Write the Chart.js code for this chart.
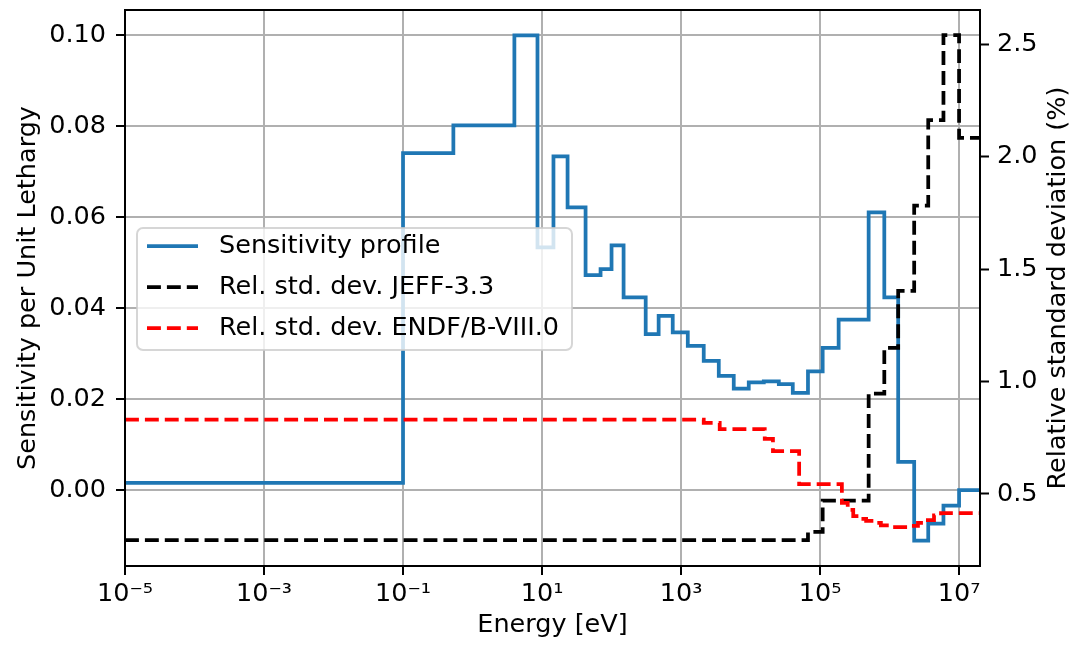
<!DOCTYPE html>
<html>
<head>
<meta charset="utf-8">
<script src="https://cdn.jsdelivr.net/npm/chart.js@4"></script>
<style>
  body { margin: 0; background: #fff; }
  #wrap { width: 1074px; height: 646px; }
</style>
</head>
<body>
<div id="wrap"><canvas id="chart" width="1074" height="646"></canvas></div>
<script>
// --- group boundaries (eV) and values ---
const sensEdges = [1e-5, 0.1, 0.53, 4.0, 8.6, 14.6, 23.3, 42.3, 69.5, 100, 149, 310, 476, 759,
  1250, 2120, 3490, 5730, 9420, 1.55e4, 2.55e4, 4.05e4, 6.7e4, 1.09e5, 1.85e5, 5.0e5, 8.4e5,
  1.33e6, 2.26e6, 3.6e6, 5.96e6, 1e7, 2e7];
const sensValues = [0.0016, 0.0741, 0.0802, 0.1000, 0.0534, 0.0734, 0.0622, 0.0473, 0.0486,
  0.0538, 0.0424, 0.0343, 0.0383, 0.0347, 0.0317, 0.0284, 0.0251, 0.0223, 0.0237, 0.0239,
  0.0233, 0.0214, 0.0261, 0.0313, 0.0375, 0.0611, 0.0424, 0.0062, -0.0111, -0.0074, -0.0034, 0.0000];

const jeffEdges = [1e-5, 6.7e4, 1.09e5, 5.0e5, 8.4e5, 1.33e6, 2.26e6, 3.6e6, 5.96e6, 1e7, 2e7];
const jeffValues = [0.295, 0.331, 0.470, 0.947, 1.150, 1.404, 1.783, 2.163, 2.542, 2.085];

const endfEdges = [1e-5, 2120, 3600, 1.6e4, 2.1e4, 5.0e4, 2.06e5, 2.5e5, 3.0e5, 3.6e5, 4.6e5,
  6.0e5, 7.5e5, 1.05e6, 1.46e6, 2.03e6, 2.56e6, 3.34e6, 4.36e6, 5.5e6, 2e7];
const endfValues = [0.831, 0.816, 0.789, 0.745, 0.691, 0.544, 0.460, 0.429, 0.402, 0.389, 0.380,
  0.371, 0.360, 0.353, 0.353, 0.358, 0.371, 0.384, 0.405, 0.415];

// ticks
const xTickExps = [-5, -3, -1, 1, 3, 5, 7];
const leftTicks = [0.00, 0.02, 0.04, 0.06, 0.08, 0.10];
const rightTicks = [0.5, 1.0, 1.5, 2.0, 2.5];

const seriesLabels = ["Sensitivity profile", "Rel. std. dev. JEFF-3.3", "Rel. std. dev. ENDF/B-VIII.0"];

// turn bins into step points (value held over each bin)
function steps(edges, vals) {
  let pts = [];
  for (let i = 0; i < vals.length; i++) {
    pts.push({x: edges[i], y: vals[i]});
    pts.push({x: edges[i + 1], y: vals[i]});
  }
  return pts;
}

const SUP = {'-': '\u207B', '0': '\u2070', '1': '\u00B9', '2': '\u00B2', '3': '\u00B3',
  '4': '\u2074', '5': '\u2075', '6': '\u2076', '7': '\u2077', '8': '\u2078', '9': '\u2079'};
function powLabel(v) {
  const e = Math.round(Math.log10(v));
  return '10' + String(e).split('').map(c => SUP[c]).join('');
}

const FONT = 25.5;
Chart.defaults.font.family = "'DejaVu Sans', sans-serif";
Chart.defaults.font.size = FONT;
Chart.defaults.color = '#000';

const LW = 3.75;
const DASH = [13.9, 6];

// vertical scales: no extra room for the end labels, fixed width
function fixWidth(w) {
  return s => { s.width = w; s.paddingTop = 0; s.paddingBottom = 0; };
}

// frame, legend box and right-hand title (matplotlib look)
const extras = {
  id: 'extras',
  afterDatasetsDraw(chart) {
    const ctx = chart.ctx, a = chart.chartArea;
    ctx.save();
    ctx.strokeStyle = '#000';
    ctx.lineWidth = 2;
    ctx.strokeRect(a.left, a.top, a.right - a.left, a.bottom - a.top);
    ctx.restore();
  },
  afterDraw(chart) {
    const ctx = chart.ctx;
    // legend
    const bx = 137, by = 228, bw = 435, bh = 122, r = 6;
    ctx.save();
    ctx.beginPath();
    ctx.roundRect(bx, by, bw, bh, r);
    ctx.fillStyle = 'rgba(255,255,255,0.8)';
    ctx.fill();
    ctx.strokeStyle = 'rgba(204,204,204,0.8)';
    ctx.lineWidth = 2;
    ctx.stroke();
    const rows = [246, 287, 328];
    chart.data.datasets.forEach((ds, i) => {
      ctx.beginPath();
      ctx.strokeStyle = ds.borderColor;
      ctx.lineWidth = LW;
      ctx.setLineDash(ds.borderDash || []);
      ctx.moveTo(147, rows[i]);
      ctx.lineTo(198, rows[i]);
      ctx.stroke();
      ctx.setLineDash([]);
      ctx.fillStyle = '#000';
      ctx.font = FONT + "px 'DejaVu Sans'";
      ctx.textBaseline = 'middle';
      ctx.textAlign = 'left';
      ctx.fillText(ds.label, 219, rows[i]);
    });
    // right axis title, reading bottom to top
    ctx.translate(1058, (chart.chartArea.top + chart.chartArea.bottom) / 2);
    ctx.rotate(-Math.PI / 2);
    ctx.textAlign = 'center';
    ctx.textBaseline = 'middle';
    ctx.fillText("Relative standard deviation (%)", 0, 0);
    ctx.restore();
  }
};

const ctx = document.getElementById("chart");
const chart = new Chart(ctx, {
  type: 'line',
  data: {
    datasets: [{
      label: seriesLabels[0],
      data: steps(sensEdges, sensValues),
      yAxisID: 'y',
      borderColor: '#1f77b4',
      borderWidth: LW,
      order: 3
    }, {
      label: seriesLabels[1],
      data: steps(jeffEdges, jeffValues),
      yAxisID: 'y1',
      borderColor: '#000000',
      borderWidth: LW,
      borderDash: DASH,
      order: 2
    }, {
      label: seriesLabels[2],
      data: steps(endfEdges, endfValues),
      yAxisID: 'y1',
      borderColor: '#ff0000',
      borderWidth: LW,
      borderDash: DASH,
      order: 1
    }]
  },
  options: {
    responsive: false,
    animation: false,
    devicePixelRatio: 1,
    layout: { padding: { top: 10, left: 0, right: 0, bottom: 0 } },
    elements: {
      point: { radius: 0 },
      line: { tension: 0, borderJoinStyle: 'miter', borderCapStyle: 'butt' }
    },
    plugins: { legend: { display: false }, tooltip: { enabled: false } },
    scales: {
      x: {
        type: 'logarithmic',
        min: 1e-5,
        max: 2e7,
        afterBuildTicks: axis => { axis.ticks = xTickExps.map(e => ({value: Math.pow(10, e)})); },
        afterFit: s => { s.height = 80; s.paddingLeft = 0; s.paddingRight = 0; },
        ticks: { callback: v => powLabel(v), autoSkip: false, maxRotation: 0, padding: 4 },
        grid: { color: '#b0b0b0', lineWidth: 2, tickColor: '#000', tickWidth: 2, tickLength: 9 },
        border: { display: true, color: '#000', width: 2 },
        title: { display: true, text: 'Energy [eV]', padding: { top: 0, bottom: 5 } }
      },
      y: {
        position: 'left',
        min: -0.0167,
        max: 0.1056,
        afterBuildTicks: axis => { axis.ticks = leftTicks.map(v => ({value: v})); },
        afterFit: fixWidth(125),
        ticks: { callback: v => v.toFixed(2), padding: 10 },
        grid: { color: '#b0b0b0', lineWidth: 2, tickColor: '#000', tickWidth: 2, tickLength: 9 },
        border: { display: true, color: '#000', width: 2 },
        title: { display: true, text: 'Sensitivity per Unit Lethargy', padding: { top: 13, bottom: 0 } }
      },
      y1: {
        position: 'right',
        min: 0.1796,
        max: 2.6535,
        afterBuildTicks: axis => { axis.ticks = rightTicks.map(v => ({value: v})); },
        afterFit: fixWidth(94),
        ticks: { callback: v => v.toFixed(1), padding: 8 },
        grid: { drawOnChartArea: false, tickColor: '#000', tickWidth: 2, tickLength: 9 },
        border: { display: true, color: '#000', width: 2 }
      }
    }
  },
  plugins: [extras]
});
</script>
</body>
</html>
